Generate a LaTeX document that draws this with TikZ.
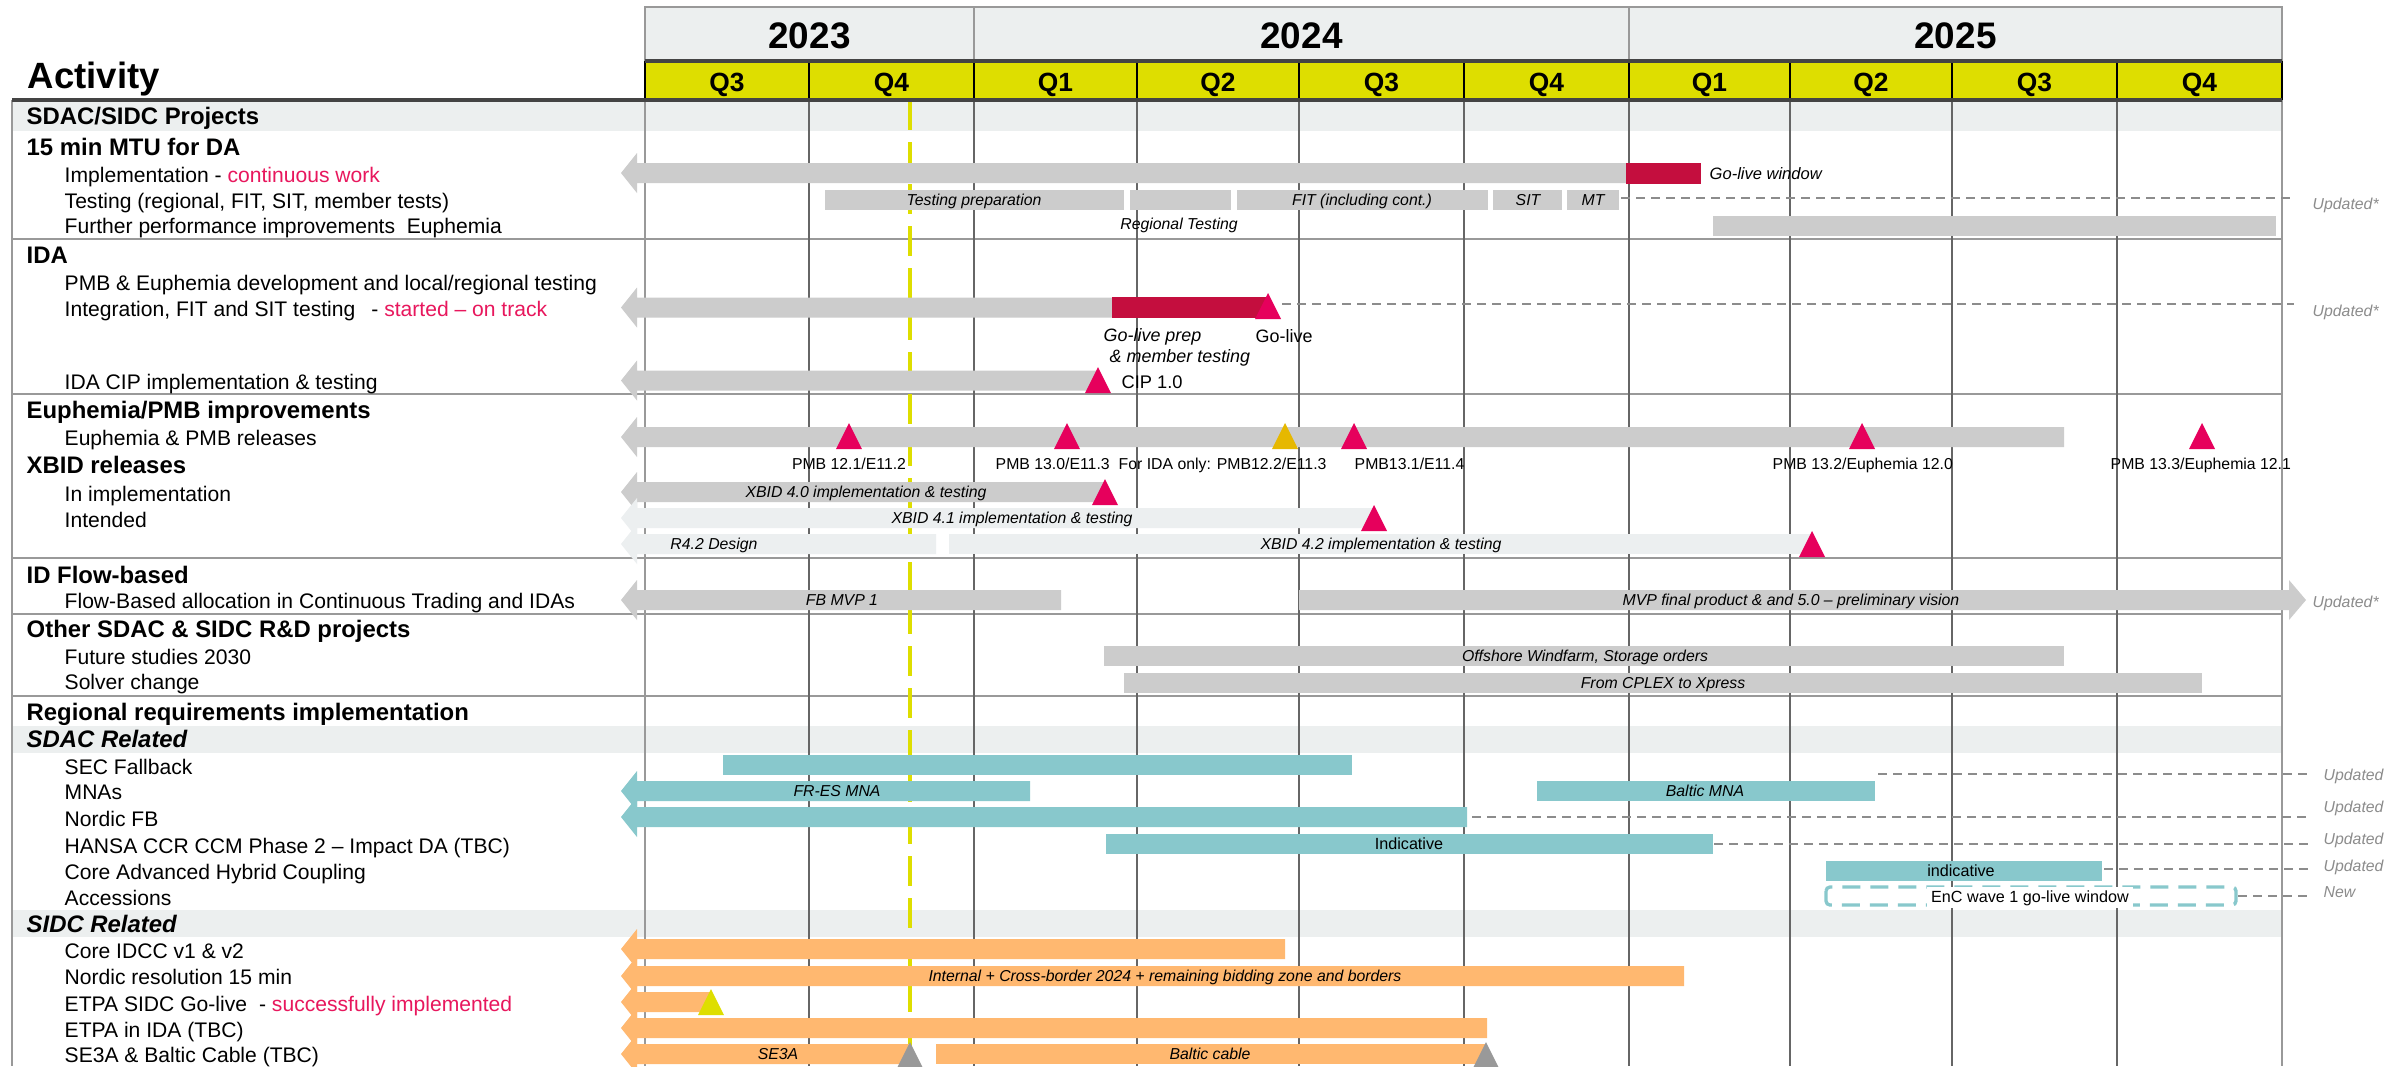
\documentclass[tikz,border=0pt]{standalone}
\usepackage{fontspec}
\setmainfont{Liberation Sans}
\definecolor{bandgray}{HTML}{ECEFEF}
\definecolor{qyellow}{HTML}{DEDE00}
\definecolor{barg}{HTML}{CCCCCC}
\definecolor{barlight}{HTML}{ECEFF0}
\definecolor{barred}{HTML}{C40E3E}
\definecolor{pinkms}{HTML}{E6005C}
\definecolor{goldms}{HTML}{E6B800}
\definecolor{tealbar}{HTML}{88C8CC}
\definecolor{orangebar}{HTML}{FFB870}
\definecolor{todayline}{HTML}{DEDE00}
\definecolor{redtxt}{HTML}{E8175D}
\definecolor{updgray}{HTML}{8C8C8C}
\definecolor{msgray}{HTML}{999999}
\definecolor{gridgray}{HTML}{666666}
\definecolor{sepgray}{HTML}{999999}
\definecolor{darkline}{HTML}{444444}
\newcommand{\arrbar}[3]{\fill[#3] (621,#2) -- (637,#2-20) -- (637,#2-10) -- (#1,#2-10) -- (#1,#2+10) -- (637,#2+10) -- (637,#2+20) -- cycle;}
\newcommand{\plainbar}[4]{\fill[#4] (#1,#2-10) rectangle (#3,#2+10);}
\newcommand{\mstone}[3]{\fill[#3] (#1,#2) -- (#1+13,#2+26) -- (#1-13,#2+26) -- cycle;}
\begin{document}
\begin{tikzpicture}[x=0.1mm,y=-0.1mm,
 itemtxt/.style={anchor=base west,inner sep=0pt,font=\fontsize{6}{7}\selectfont},
 headtxt/.style={anchor=base west,inner sep=0pt,font=\fontsize{6.8}{8}\selectfont\bfseries},
 subhead/.style={anchor=base west,inner sep=0pt,font=\fontsize{6.8}{8}\selectfont\bfseries\itshape},
 barlbl/.style={anchor=base,inner sep=0pt,font=\fontsize{4.5}{5}\selectfont\itshape},
 barlblup/.style={anchor=base,inner sep=0pt,font=\fontsize{4.6}{5}\selectfont},
 mslbl/.style={anchor=base west,inner sep=0pt,font=\fontsize{4.5}{5}\selectfont},
 updlbl/.style={anchor=base west,inner sep=0pt,text=updgray,font=\fontsize{4.5}{5}\selectfont\itshape},
 updline/.style={draw=updgray,line width=0.55pt,dash pattern=on 0.9mm off 0.6mm},
 gridln/.style={draw=gridgray,line width=0.4pt},
 sepline/.style={draw=sepgray,line width=0.55pt},
 yrlbl/.style={anchor=base,inner sep=0pt,font=\fontsize{10.5}{12}\selectfont\bfseries},
 qlbl/.style={anchor=base,inner sep=0pt,font=\fontsize{7.5}{9}\selectfont\bfseries},
]
\useasboundingbox (0,0) rectangle (2404,1066);
\clip (0,0) rectangle (2404,1066);
\fill[white] (0,0) rectangle (2404,1066);
% bands
\fill[bandgray] (12,100) rectangle (2282,131);
\fill[bandgray] (12,726) rectangle (2282,753);
\fill[bandgray] (12,910) rectangle (2282,937);
% separators
\foreach \sy in {239,394,558,614,696} \draw[sepline] (12,\sy) -- (2282,\sy);
% grid
\foreach \qx in {809,974,1137,1299,1464,1629,1790,1952,2117} \draw[gridln] (\qx,100) -- (\qx,1066);
\draw[sepline,line width=0.7pt] (645,100) -- (645,1066);
\draw[sepline,line width=0.7pt] (2282,100) -- (2282,1066);
\draw[sepline,line width=0.7pt] (12,100) -- (12,1066);
% today line
\draw[todayline,line width=0.9pt,dash pattern=on 3mm off 1.2mm] (910,100) -- (910,1066);
% header
\fill[bandgray] (645,7) rectangle (2282,61);
\draw[sepgray,line width=0.6pt] (645,61) -- (645,7) -- (2282,7) -- (2282,61);
\draw[sepgray,line width=0.6pt] (974,7) -- (974,61);
\draw[sepgray,line width=0.6pt] (1629,7) -- (1629,61);
\fill[qyellow] (645,61) rectangle (2282,100);
\foreach \qx in {645,809,974,1137,1299,1464,1629,1790,1952,2117,2282} \draw[black,line width=0.5pt] (\qx,61) -- (\qx,100);
\draw[darkline,line width=0.9pt] (645,61) -- (2282,61);
\draw[darkline,line width=0.9pt] (12,100) -- (2282,100);
\node[yrlbl] (y23) at (809.5,48) {2023};
\node[yrlbl] (y24) at (1301.5,48) {2024};
\node[yrlbl] (y25) at (1955.5,48) {2025};
\foreach \qx/\ql [count=\i] in {727/Q3,891.5/Q4,1055.5/Q1,1218/Q2,1381.5/Q3,1546.5/Q4,1709.5/Q1,1871/Q2,2034.5/Q3,2199.5/Q4}
  \node[qlbl] (q\i) at (\qx,91) {\ql};
\node[anchor=base west,inner sep=0pt,font=\fontsize{10.4}{12}\selectfont\bfseries] (act) at (27,88) {Activity};
% left texts
\node[headtxt] (h1) at (26,124) {SDAC/SIDC Projects};
\node[headtxt] (h2) at (26,155) {15 min MTU for DA};
\node[itemtxt] (i1) at (64,182) {Implementation - \textcolor{redtxt}{continuous work}};
\node[itemtxt] (i2) at (64,208) {Testing (regional, FIT, SIT, member tests)};
\node[itemtxt] (i3) at (64,233) {Further performance improvements\ \ Euphemia};
\node[headtxt] (h3) at (26,263) {IDA};
\node[itemtxt] (i4) at (64,290) {PMB \& Euphemia development and local/regional testing};
\node[itemtxt] (i5) at (64,316) {Integration, FIT and SIT testing\hspace{1.6mm}- \textcolor{redtxt}{started – on track}};
\node[itemtxt] (i6) at (64,389) {IDA CIP implementation \& testing};
\node[headtxt] (h4) at (26,418) {Euphemia/PMB improvements};
\node[itemtxt] (i7) at (64,445) {Euphemia \& PMB releases};
\node[headtxt] (h5) at (26,473) {XBID releases};
\node[itemtxt] (i8) at (64,501) {In implementation};
\node[itemtxt] (i9) at (64,527) {Intended};
\node[headtxt] (h6) at (26,583) {ID Flow-based};
\node[itemtxt] (i10) at (64,608) {Flow-Based allocation in Continuous Trading and IDAs};
\node[headtxt] (h7) at (26,637) {Other SDAC \& SIDC R\&D projects};
\node[itemtxt] (i11) at (64,664) {Future studies 2030};
\node[itemtxt] (i12) at (64,689) {Solver change};
\node[headtxt] (h8) at (26,720) {Regional requirements implementation};
\node[subhead] (h9) at (26,747) {SDAC Related};
\node[itemtxt] (i13) at (64,774) {SEC Fallback};
\node[itemtxt] (i14) at (64,799) {MNAs};
\node[itemtxt] (i15) at (64,826) {Nordic FB};
\node[itemtxt] (i16) at (64,853) {HANSA CCR CCM Phase 2 – Impact DA (TBC)};
\node[itemtxt] (i17) at (64,879) {Core Advanced Hybrid Coupling};
\node[itemtxt] (i18) at (64,905) {Accessions};
\node[subhead] (h10) at (26,932) {SIDC Related};
\node[itemtxt] (i19) at (64,958) {Core IDCC v1 \& v2};
\node[itemtxt] (i20) at (64,984) {Nordic resolution 15 min};
\node[itemtxt] (i21) at (64,1011) {ETPA SIDC Go-live\hspace{1.2mm}- \textcolor{redtxt}{successfully implemented}};
\node[itemtxt] (i22) at (64,1037) {ETPA in IDA (TBC)};
\node[itemtxt] (i23) at (64,1062) {SE3A \& Baltic Cable (TBC)};
% 15 min MTU
\arrbar{1626}{173}{barg}
\fill[barred] (1626,162.5) rectangle (1701,183.5);
\node[mslbl,font=\fontsize{4.7}{5}\selectfont\itshape] (golw) at (1709,179) {Go-live window};
\plainbar{825}{199.5}{1124}{barg}
\plainbar{1130}{199.5}{1231}{barg}
\plainbar{1237}{199.5}{1488}{barg}
\plainbar{1493}{199.5}{1562}{barg}
\plainbar{1567}{199.5}{1619}{barg}
\node[barlbl] (tprep) at (974,205) {Testing preparation};
\node[barlbl] (tfit) at (1362,205) {FIT (including cont.)};
\node[barlbl] (tsit) at (1528,205) {SIT};
\node[barlbl] (tmt) at (1593,205) {MT};
\node[barlbl] (treg) at (1179,229) {Regional Testing};
\coordinate (testL) at (1621,198);
\coordinate (testR) at (2294,198);
\draw[updline] (testL) -- (testR);
\node[updlbl] (upd1) at (2312,209) {Updated*};
\plainbar{1713}{225.5}{2276}{barg}
% IDA
\arrbar{1112}{307.5}{barg}
\fill[barred] (1112,297) rectangle (1269,318);
\coordinate (intL) at (1282,304);
\coordinate (intR) at (2294,304);
\draw[updline] (intL) -- (intR);
\mstone{1268}{293}{pinkms}
\node[updlbl] (upd2) at (2312,316) {Updated*};
\node[anchor=base west,inner sep=0pt,font=\fontsize{5.1}{6}\selectfont\itshape] (glp) at (1103,341) {Go-live prep};
\node[anchor=base west,inner sep=0pt,font=\fontsize{5.1}{6}\selectfont\itshape] (glp2) at (1109,362) {\& member testing};
\node[anchor=base west,inner sep=0pt,font=\fontsize{5.1}{6}\selectfont] (gl) at (1255,342) {Go-live};
\arrbar{1098}{380.5}{barg}
\mstone{1098}{367}{pinkms}
\node[anchor=base west,inner sep=0pt,font=\fontsize{5.2}{6}\selectfont] (cip) at (1121,388) {CIP 1.0};
% Euphemia releases
\arrbar{2064}{437}{barg}
\mstone{849}{423}{pinkms}
\mstone{1067}{423}{pinkms}
\mstone{1285}{423}{goldms}
\mstone{1354}{423}{pinkms}
\mstone{1862}{423}{pinkms}
\mstone{2202}{423}{pinkms}
\node[mslbl,anchor=base] (m1) at (849,469) {PMB 12.1/E11.2};
\node[mslbl] (m2) at (995,469) {PMB 13.0/E11.3};
\node[mslbl] (m3) at (1118,469) {For IDA only: PMB12.2/E11.3};
\node[mslbl] (m4) at (1354,469) {PMB13.1/E11.4};
\node[mslbl] (m5) at (1772,469) {PMB 13.2/Euphemia 12.0};
\node[mslbl] (m6) at (2110,469) {PMB 13.3/Euphemia 12.1};
% XBID
\arrbar{1105}{492}{barg}
\node[barlbl] (x40) at (866,497.5) {XBID 4.0 implementation \& testing};
\mstone{1105}{479}{pinkms}
\arrbar{1374}{518}{barlight}
\node[barlbl] (x41) at (1012,523.5) {XBID 4.1 implementation \& testing};
\mstone{1374}{505}{pinkms}
\arrbar{936}{544}{barlight}
\node[barlbl] (r42) at (714,549.5) {R4.2 Design};
\plainbar{949}{544}{1812}{barlight}
\node[barlbl] (x42) at (1381,549.5) {XBID 4.2 implementation \& testing};
\mstone{1812}{531}{pinkms}
% Flow-based
\arrbar{1061}{600}{barg}
\node[barlbl] (fb1) at (842,605.5) {FB MVP 1};
\fill[barg] (1299,590) -- (2289,590) -- (2289,580) -- (2306,600) -- (2289,620) -- (2289,610) -- (1299,610) -- cycle;
\node[barlbl] (mvp) at (1791,605.5) {MVP final product \& and 5.0 – preliminary vision};
\node[updlbl] (upd3) at (2312,607) {Updated*};
% Other R&D
\plainbar{1104}{655.5}{2064}{barg}
\node[barlbl] (osw) at (1585,661) {Offshore Windfarm, Storage orders};
\plainbar{1124}{682.5}{2202}{barg}
\node[barlbl] (cplex) at (1663,688) {From CPLEX to Xpress};
% SDAC related
\plainbar{723}{764.5}{1352}{tealbar}
\arrbar{1030}{791}{tealbar}
\node[barlbl] (fres) at (837,796.5) {FR-ES MNA};
\plainbar{1537}{791}{1875}{tealbar}
\node[barlbl] (balt) at (1705,796.5) {Baltic MNA};
\coordinate (mnaL) at (1878,774);
\coordinate (mnaR) at (2307,774);
\draw[updline] (mnaL) -- (mnaR);
\node[updlbl] (upd4) at (2323,780) {Updated};
\arrbar{1467}{817}{tealbar}
\coordinate (nfbL) at (1472,817);
\coordinate (nfbR) at (2307,817);
\draw[updline] (nfbL) -- (nfbR);
\node[updlbl] (upd5) at (2323,812) {Updated};
\plainbar{1106}{843.5}{1713}{tealbar}
\node[barlblup] (ind1) at (1409,849) {Indicative};
\coordinate (hanL) at (1714,844);
\coordinate (hanR) at (2312,844);
\draw[updline] (hanL) -- (hanR);
\node[updlbl] (upd6) at (2323,844) {Updated};
\plainbar{1826}{870.5}{2102}{tealbar}
\node[barlblup] (ind2) at (1961,876) {indicative};
\coordinate (cahL) at (2104,869);
\coordinate (cahR) at (2312,869);
\draw[updline] (cahL) -- (cahR);
\node[updlbl] (upd7) at (2323,871) {Updated};
\draw[tealbar,line width=0.95pt,dash pattern=on 1.8mm off 1mm,rounded corners=0.4mm] (1826,887) rectangle (2236,905);
\node[fill=white,inner xsep=0.4mm,inner ysep=0.3mm,anchor=base,font=\fontsize{4.6}{5}\selectfont] (enc) at (2030,902) {EnC wave 1 go-live window};
\coordinate (accL) at (2238,896);
\coordinate (accR) at (2312,896);
\draw[updline] (accL) -- (accR);
\node[updlbl] (upd8) at (2323,897) {New};
% SIDC related
\arrbar{1285}{949}{orangebar}
\arrbar{1684}{976}{orangebar}
\node[barlbl] (nord) at (1165,981.5) {Internal + Cross-border 2024 + remaining bidding zone and borders};
\arrbar{711}{1002}{orangebar}
\mstone{711}{989}{qyellow}
\arrbar{1487}{1028}{orangebar}
\arrbar{910}{1054}{orangebar}
\node[barlbl] (se3a) at (778,1059.5) {SE3A};
\plainbar{936}{1054}{1486}{orangebar}
\node[barlbl] (bc) at (1210,1059.5) {Baltic cable};
\mstone{910}{1042}{msgray}
\mstone{1486}{1042}{msgray}
\end{tikzpicture}
\end{document}
